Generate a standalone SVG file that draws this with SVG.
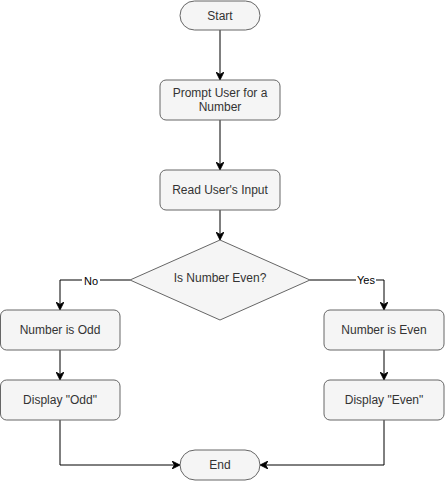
<svg xmlns="http://www.w3.org/2000/svg" width="445" height="481" viewBox="0 0 445 481">
<style>
.n{fill:#f5f5f5;stroke:#666666;stroke-width:1}
.t{font-family:"Liberation Sans",Arial,sans-serif;font-size:12px;fill:#333333;text-anchor:middle;dominant-baseline:central}
.e{fill:none;stroke:#000000;stroke-width:1}
.l{font-family:"Liberation Sans",Arial,sans-serif;font-size:11px;fill:#000000;text-anchor:middle;dominant-baseline:central}
</style>
<defs>
<marker id="a" viewBox="0 0 10 10" refX="10" refY="5" markerWidth="8" markerHeight="8" markerUnits="userSpaceOnUse" orient="auto">
<path d="M0,0 L10,5 L0,10 L3,5 Z" fill="#000000" stroke="#000000" stroke-width="1"/>
</marker>
</defs>
<rect width="445" height="481" fill="#ffffff"/>
<g id="connectors">
<path class="e" d="M220,30 L220,80" marker-end="url(#a)"/>
<path class="e" d="M220,120 L220,170" marker-end="url(#a)"/>
<path class="e" d="M220,210 L220,240" marker-end="url(#a)"/>
<path class="e" d="M130,280 L60,280 L60,310" marker-end="url(#a)"/>
<rect x="82" y="274" width="18" height="13" fill="#ffffff"/>
<text class="l" x="91" y="281">No</text>
<path class="e" d="M310,280 L384,280 L384,310" marker-end="url(#a)"/>
<rect x="356" y="274" width="20" height="13" fill="#ffffff"/>
<text class="l" x="366" y="280">Yes</text>
<path class="e" d="M60,350 L60,380" marker-end="url(#a)"/>
<path class="e" d="M384,350 L384,380" marker-end="url(#a)"/>
<path class="e" d="M60,420 L60,465 L180,465" marker-end="url(#a)"/>
<path class="e" d="M384,420 L384,465 L260,465" marker-end="url(#a)"/>
</g>
<g id="start"><rect class="n" x="180" y="1" width="80" height="29" rx="14.5"/><text class="t" x="220" y="15.5">Start</text></g>
<g id="prompt"><rect class="n" x="160" y="80" width="120" height="40" rx="6"/><text class="t" x="220" y="93">Prompt User for a</text><text class="t" x="220" y="107">Number</text></g>
<g id="read"><rect class="n" x="160" y="170" width="120" height="40" rx="6"/><text class="t" x="220" y="190">Read User's Input</text></g>
<g id="decision"><path class="n" d="M220,240 L310,280 L220,320 L130,280 Z"/><text class="t" x="220" y="278">Is Number Even?</text></g>
<g id="odd"><rect class="n" x="0.5" y="310" width="119.5" height="40" rx="6"/><text class="t" x="60" y="330">Number is Odd</text></g>
<g id="dispOdd"><rect class="n" x="0.5" y="380" width="119.5" height="40" rx="6"/><text class="t" x="60" y="400">Display "Odd"</text></g>
<g id="even"><rect class="n" x="324" y="310" width="120" height="40" rx="6"/><text class="t" x="384" y="330">Number is Even</text></g>
<g id="dispEven"><rect class="n" x="324" y="380" width="120" height="40" rx="6"/><text class="t" x="384" y="400">Display "Even"</text></g>
<g id="end"><rect class="n" x="180" y="450" width="80" height="30" rx="15"/><text class="t" x="220" y="465">End</text></g>
</svg>
